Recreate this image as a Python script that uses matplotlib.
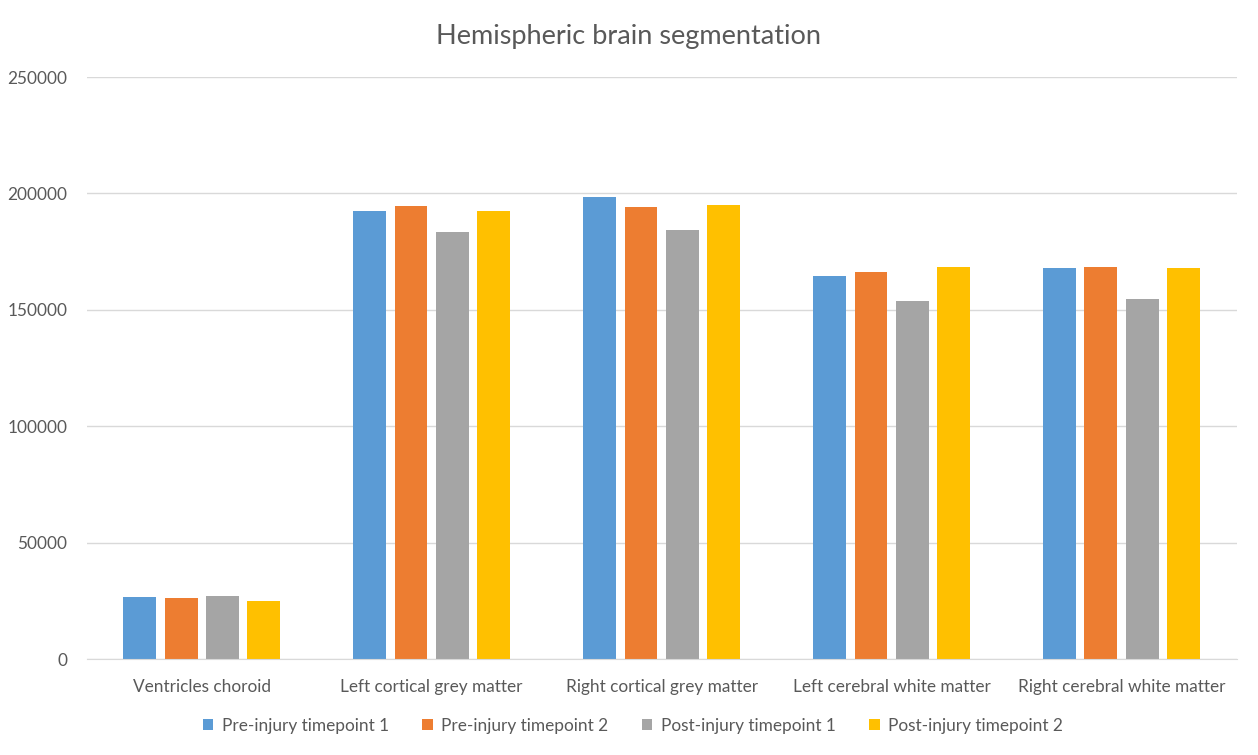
import matplotlib.pyplot as plt
import numpy as np

plt.rcParams['font.family'] = ['Lato', 'DejaVu Sans']

# values
categories = ["Ventricles choroid", "Left cortical grey matter", "Right cortical grey matter",
              "Left cerebral white matter", "Right cerebral white matter"]
series_names = ["Pre-injury timepoint 1", "Pre-injury timepoint 2",
                "Post-injury timepoint 1", "Post-injury timepoint 2"]
pre_t1 = [26800, 192500, 198500, 164600, 168000]
pre_t2 = [26400, 194600, 194200, 166300, 168500]
post_t1 = [27250, 183500, 184300, 153900, 154700]
post_t2 = [25100, 192500, 195100, 168500, 168000]
yticks = [0, 50000, 100000, 150000, 200000, 250000]

colors = ["#5B9BD5", "#ED7D31", "#A5A5A5", "#FFC000"]
txt = "#595959"

fig = plt.figure(figsize=(12.58, 7.55), dpi=100)
ax = fig.add_axes([0.069, 0.127, 0.914, 0.771])

x = np.arange(len(categories))
step = 0.18
width = 0.143
for i, (vals, name) in enumerate(zip([pre_t1, pre_t2, post_t1, post_t2], series_names)):
    ax.bar(x + (i - 1.5) * step, vals, width=width, color=colors[i], label=name, zorder=3)

ax.set_xlim(-0.5, len(categories) - 0.5)
ax.set_ylim(0, 250000)
ax.set_yticks(yticks)
ax.set_yticklabels([str(t) for t in yticks])
ax.set_xticks(x)
ax.set_xticklabels(categories)
ax.grid(axis='y', color='#D9D9D9', linewidth=1, zorder=0)
for s in ['top', 'right', 'left']:
    ax.spines[s].set_visible(False)
ax.spines['bottom'].set_color('#D9D9D9')
ax.spines['bottom'].set_zorder(4)
ax.tick_params(axis='both', length=0, labelsize=12.4, colors=txt)
ax.tick_params(axis='x', pad=14)
ax.tick_params(axis='y', pad=14)

fig.suptitle("Hemispheric brain segmentation", y=0.968, fontsize=19.5, color=txt)
ax.legend(loc='upper center', bbox_to_anchor=(0.475, -0.074), ncol=4, frameon=False,
          fontsize=12.4, labelcolor=txt, handlelength=0.6, handleheight=0.6,
          columnspacing=1.95, handletextpad=0.5)

fig.savefig("out.png", dpi=100)
